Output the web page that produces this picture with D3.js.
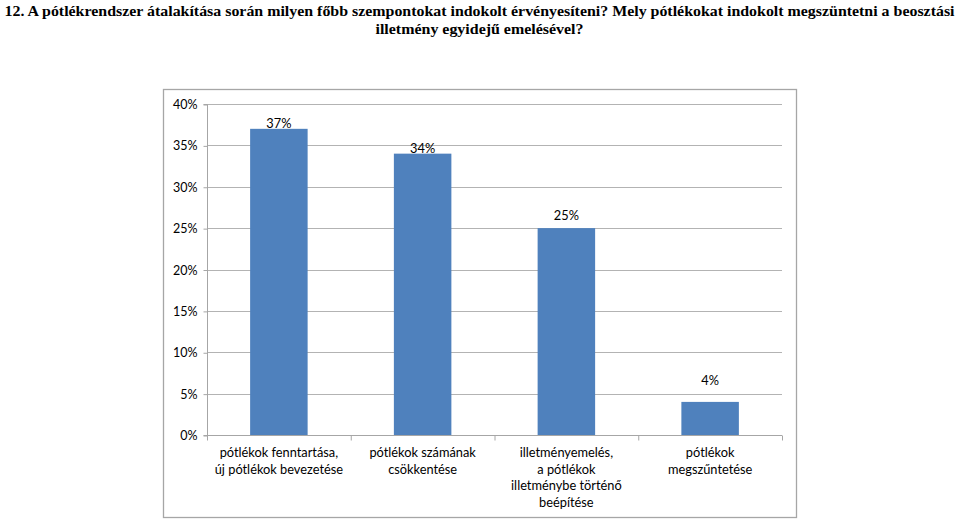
<!DOCTYPE html>
<html><head><meta charset="utf-8">
<script src="https://cdn.jsdelivr.net/npm/d3@7"></script>
<style>body{margin:0;background:#fff}svg{display:block}</style>
</head><body>
<svg id="c" width="960" height="519"></svg>
<script>
const titleLines = ["12. A pótlékrendszer átalakítása során milyen főbb szempontokat indokolt érvényesíteni? Mely pótlékokat indokolt megszüntetni a beosztási", "illetmény egyidejű emelésével?"];
const categories = [
  ["pótlékok fenntartása,", "új pótlékok bevezetése"],
  ["pótlékok számának", "csökkentése"],
  ["illetményemelés,", "a pótlékok", "illetménybe történő", "beépítése"],
  ["pótlékok", "megszűntetése"]
];
const values = [37, 34, 25, 4];
const yTicks = [0, 5, 10, 15, 20, 25, 30, 35, 40];
const labelLift = [5, 5, 13, 21];
const titleWidths = [950, 208];

const svg = d3.select("#c");
const font = "Lato, 'Open Sans', sans-serif";
const frame = {x: 163.5, y: 89.5, w: 633, h: 428};
const plot = {l: 207, r: 782, t: 104, b: 435};

svg.append("g").selectAll("text").data(titleLines).join("text")
  .attr("x", 479.5).attr("y", (d, i) => 15.5 + i * 18)
  .attr("text-anchor", "middle")
  .attr("textLength", (d, i) => titleWidths[i]).attr("lengthAdjust", "spacingAndGlyphs")
  .attr("font-family", "'Liberation Serif', 'Times New Roman', serif")
  .attr("font-weight", "bold").attr("font-size", 15.5).attr("fill", "#000")
  .text(d => d);

svg.append("rect").attr("x", frame.x).attr("y", frame.y).attr("width", frame.w).attr("height", frame.h)
  .attr("fill", "#fff").attr("stroke", "#a6a6a6").attr("stroke-width", 1.3);

const x = d3.scaleBand().domain(d3.range(values.length)).range([plot.l, plot.r]).paddingInner(0.6).paddingOuter(0.3);
const xb = d3.scaleBand().domain(d3.range(values.length)).range([plot.l, plot.r]);
const y = d3.scaleLinear().domain([0, 40]).range([plot.b, plot.t]);

// gridlines
svg.append("g").selectAll("line").data(yTicks.filter(t => t > 0)).join("line")
  .attr("x1", plot.l).attr("x2", plot.r)
  .attr("y1", d => Math.round(y(d)) + 0.5).attr("y2", d => Math.round(y(d)) + 0.5)
  .attr("stroke", "#b3b3b3").attr("stroke-width", 1);

// y axis
const yAxis = d3.axisLeft(y).tickValues(yTicks).tickFormat(d => d + "%").tickSize(4).tickPadding(6);
const gy = svg.append("g").attr("transform", `translate(${plot.l + 0.5},0.5)`).call(yAxis);
gy.select(".domain").attr("stroke", "#a6a6a6").attr("d", `M-4,${plot.t}H0V${plot.b}H-4`);
gy.selectAll(".tick line").attr("stroke", "#a6a6a6");
gy.selectAll(".tick text").attr("font-family", font).attr("font-size", 12.5).attr("fill", "#000");

// bars
svg.append("g").selectAll("rect").data(values).join("rect")
  .attr("x", (d, i) => x(i)).attr("width", x.bandwidth())
  .attr("y", d => y(d)).attr("height", d => y(0) - y(d))
  .attr("fill", "#4f81bd");

// x axis
const gx = svg.append("g").attr("transform", `translate(0,${plot.b + 0.5})`);
gx.append("line").attr("x1", plot.l).attr("x2", plot.r).attr("stroke", "#a6a6a6");
gx.selectAll("line.t").data(d3.range(values.length + 1)).join("line").attr("class", "t")
  .attr("x1", i => plot.l + i * xb.step() + 0.5).attr("x2", i => plot.l + i * xb.step() + 0.5)
  .attr("y1", 0).attr("y2", 5).attr("stroke", "#a6a6a6");

// category labels
const cl = svg.append("g").selectAll("text").data(categories).join("text")
  .attr("text-anchor", "middle").attr("font-family", font).attr("font-size", 12.8).attr("fill", "#000");
cl.each(function(lines, i) {
  d3.select(this).selectAll("tspan").data(lines).join("tspan")
    .attr("x", xb(i) + xb.bandwidth() / 2).attr("y", (d, j) => 457 + j * 16.5).text(d => d);
});

// value labels
svg.append("g").selectAll("text").data(values).join("text")
  .attr("x", (d, i) => x(i) + x.bandwidth() / 2)
  .attr("y", (d, i) => y(d) - labelLift[i] + 4.5)
  .attr("text-anchor", "middle").attr("font-family", font).attr("font-size", 12.8).attr("fill", "#000")
  .text(d => d + "%");
</script>
</body></html>
